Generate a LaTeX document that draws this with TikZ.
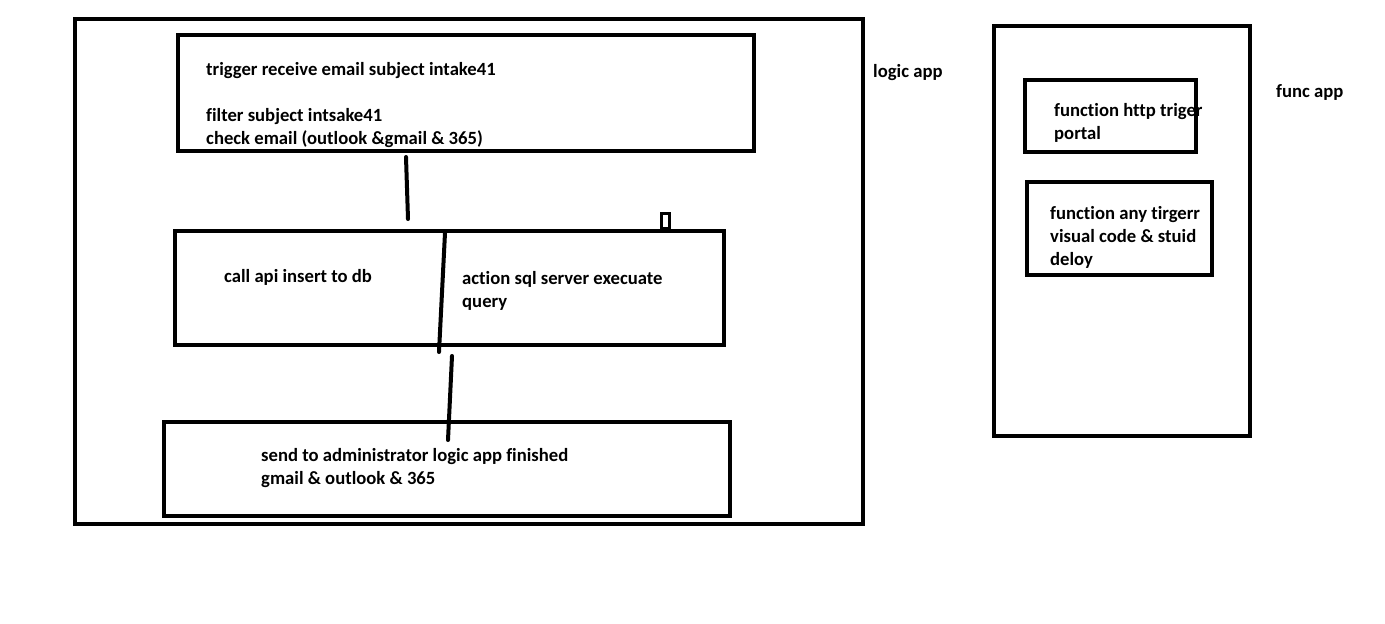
\documentclass[tikz,border=0pt]{standalone}
\usepackage{fontspec}
\setmainfont{Carlito}[Ligatures=NoCommon]
\usetikzlibrary{positioning}

\begin{document}
\begin{tikzpicture}[x=1pt,y=-1pt,
      every node/.style={font=\bfseries\fontsize{18.67}{23}\selectfont},
      box/.style={draw,line width=4pt,inner sep=0pt},
      lbl/.style={anchor=base west,align=left,inner sep=0pt},
      wire/.style={line width=4pt,line cap=round}]
    \useasboundingbox (0,0) rectangle (1385,624);
    % logic app
    \node[box,minimum width=788,minimum height=505] (logic) at (469,271.5) {};
    \node[box,minimum width=576,minimum height=116] (trig)  at (466,93)    {};
    \node[box,minimum width=549,minimum height=114] (mid)   at (449.5,288) {};
    \node[box,minimum width=566,minimum height=94]  (send)  at (447,469)   {};
    \node[box,line width=3.5pt,minimum width=8,minimum height=15] (tab) at (665.5,221) {};
    % func app
    \node[box,minimum width=256,minimum height=410] (func) at (1122,231)    {};
    \node[box,minimum width=171,minimum height=72]  (http) at (1110.5,116)  {};
    \node[box,minimum width=185,minimum height=93]  (any)  at (1119.5,228.5) {};
    % connectors
    \coordinate (w1a) at (406,157); \coordinate (w1b) at (408,219);
    \coordinate (w2a) at (445,233); \coordinate (w2b) at (439,352);
    \coordinate (w3a) at (452,356); \coordinate (w3b) at (448,440);
    \foreach \a/\b in {w1a/w1b,w2a/w2b,w3a/w3b}{\draw[wire](\a)--(\b);}
    % Labels (placed at the baseline of their last line)
    \node[lbl] (trigtxt) at (206,144) {trigger receive email subject intake41\\[23pt]filter subject intsake41\\check email (outlook \&gmail \& 365)};
    \node[lbl] (apitxt)  at (224,282) {call api insert to db};
    \node[lbl] (sqltxt)  at (462,307) {action sql server execuate\\query};
    \node[lbl] (sendtxt) at (261,484) {send to administrator logic app finished\\gmail \& outlook \& 365};
    \node[lbl] (logictxt) at (873,77) {logic app};
    \node[lbl] (functxt)  at (1276,97) {func app};
    \node[lbl] (httptxt)  at (1054,139) {function http triger\\portal};
    \node[lbl] (anytxt)   at (1050,265) {function any tirgerr\\visual code \& stuid\\deloy};
  \end{tikzpicture}
\end{document}
